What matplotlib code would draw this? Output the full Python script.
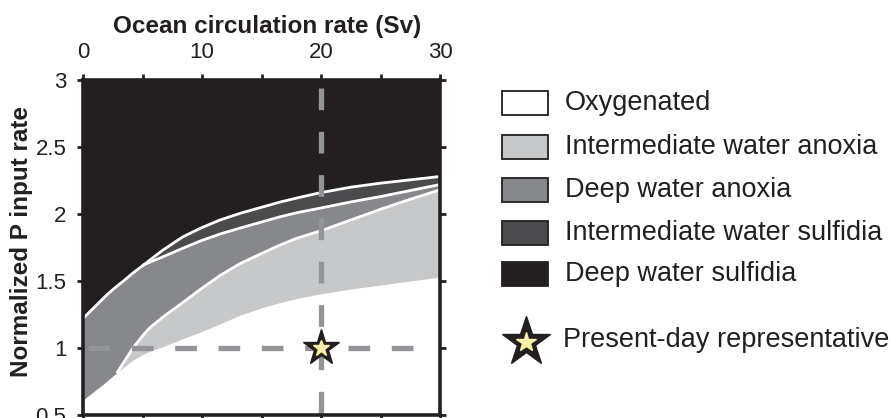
import matplotlib
matplotlib.use('Agg')
import matplotlib.pyplot as plt
from matplotlib.patches import Rectangle
import numpy as np

plt.rcParams['font.family'] = ['Liberation Sans', 'DejaVu Sans']
plt.rcParams['lines.scale_dashes'] = False

# circulation rate (Sv) where the regime boundaries were read
flow = [0, 1.7, 2.1, 2.9, 3.4, 4.2, 5.1, 5.6, 6.7, 8.4, 9.9, 11.5, 13.2, 15, 16.6,
        18, 20, 22.5, 25, 27.5, 30]
# upper edge of the stacked regimes (below deep water sulfidia)
sulfidia_top = [1.22, 1.37, 1.405, 1.465, 1.5, 1.56, 1.62, 1.655, 1.73, 1.83, 1.895,
                1.955, 2.005, 2.05, 2.09, 2.12, 2.16, 2.2, 2.23, 2.255, 2.28]
# lower edge of intermediate water sulfidia
int_sulfidia_bottom = [1.22, 1.37, 1.405, 1.465, 1.5, 1.56, 1.62, 1.64, 1.68, 1.745, 1.8,
                       1.85, 1.895, 1.94, 1.98, 2.01, 2.045, 2.09, 2.13, 2.175, 2.22]
# lower edge of deep water anoxia
deep_anoxia_bottom = [0.612, 0.73, 0.76, 0.82, 0.89, 1.0, 1.1, 1.15, 1.23, 1.34, 1.44,
                      1.54, 1.63, 1.705, 1.77, 1.82, 1.875, 1.955, 2.035, 2.11, 2.18]
# lower edge of intermediate water anoxia (top of oxygenated)
oxygenated_top = [0.612, 0.73, 0.76, 0.82, 0.855, 0.91, 0.955, 0.975, 1.01, 1.07, 1.12,
                  1.18, 1.245, 1.3, 1.34, 1.37, 1.405, 1.44, 1.47, 1.5, 1.53]

present_flow = 20
present_p = 1

x_ticks = [0, 10, 20, 30]
x_minor = [5, 15, 25]
y_ticks = [0.5, 1, 1.5, 2, 2.5, 3]
y_labels = ['0.5', '1', '1.5', '2', '2.5', '3']

legend_labels = ['Oxygenated', 'Intermediate water anoxia', 'Deep water anoxia',
                 'Intermediate water sulfidia', 'Deep water sulfidia']
legend_colors = ['#ffffff', '#c7c8ca', '#87888b', '#4b4b4d', '#231f20']

ink = '#231f20'
dash_grey = '#939497'
star_fill = '#f7f0a6'

W, H = 894, 418
fig = plt.figure(figsize=(W / 100, H / 100), dpi=100)
ax = fig.add_axes([83 / W, 1 - 415 / H, 357 / W, 335 / H])

flow = np.array(flow)
ax.set_facecolor('white')
ax.fill_between(flow, sulfidia_top, 3, color=legend_colors[4], lw=0)
ax.fill_between(flow, int_sulfidia_bottom, sulfidia_top, color=legend_colors[3], lw=0)
ax.fill_between(flow, deep_anoxia_bottom, int_sulfidia_bottom, color=legend_colors[2], lw=0)
ax.fill_between(flow, oxygenated_top, deep_anoxia_bottom, color=legend_colors[1], lw=0)

# white boundary lines
ax.plot(flow, sulfidia_top, color='white', lw=2, solid_joinstyle='round')
ax.plot(flow[6:], int_sulfidia_bottom[6:], color='white', lw=2, solid_joinstyle='round')
ax.plot(flow[3:], deep_anoxia_bottom[3:], color='white', lw=2, solid_joinstyle='round')

# present-day cross hair
ax.plot([0.4, 28], [present_p, present_p], color=dash_grey, lw=3.8,
        dashes=(15.6, 15.6), dash_capstyle='butt')
ax.plot([present_flow, present_flow], [2.94, 0.5], color=dash_grey, lw=3.8,
        dashes=(15.6, 15.6), dash_capstyle='butt')
ax.plot(present_flow, present_p, marker='*', ms=27, color=ink, zorder=5)
ax.plot(present_flow, present_p, marker='*', ms=12, color=star_fill, zorder=6)

ax.set_xlim(0, 30)
ax.set_ylim(0.5, 3)
ax.xaxis.tick_top()
ax.set_xticks(x_ticks)
ax.set_xticks(x_minor, minor=True)
ax.set_yticks(y_ticks)
ax.set_yticklabels(y_labels)
ax.tick_params(axis='x', which='both', top=True, bottom=True, labeltop=True,
               labelbottom=False, direction='out', length=4, width=2, color=ink,
               labelsize=16, pad=8, labelcolor=ink)
ax.tick_params(axis='y', left=True, right=True, labelleft=True, labelright=False,
               direction='out', length=4, width=2, color=ink, labelsize=16, pad=8,
               labelcolor=ink)
for s in ax.spines.values():
    s.set_linewidth(2.6)
    s.set_color(ink)

ax.xaxis.set_label_position('top')
ax.set_xlabel('Ocean circulation rate (Sv)', fontsize=17.5, fontweight='bold', color=ink)
ax.xaxis.set_label_coords(0.515, 1.14)
ax.set_ylabel('Normalized P input rate', fontsize=17.5, fontweight='bold', color=ink)
ax.yaxis.set_label_coords(-0.14, 0.518)

# legend drawn by hand on the right
def fx(px):
    return px / W

def fy(py):
    return 1 - py / H

row_y = [103, 147, 190, 233, 274]
for label, colour, py in zip(legend_labels, legend_colors, row_y):
    fig.patches.append(Rectangle((fx(502), fy(py + 12)), 46 / W, 24 / H,
                                 transform=fig.transFigure, facecolor=colour,
                                 edgecolor=ink, lw=1.3))
    fig.text(fx(565), fy(py), label, fontsize=19.5, va='center', ha='left', color=ink)

star_ax = fig.add_axes([0, 0, 1, 1], facecolor='none')
star_ax.set_axis_off()
star_ax.set_xlim(0, W)
star_ax.set_ylim(H, 0)
star_ax.plot(526, 342, marker='*', ms=37, color=ink)
star_ax.plot(526, 342, marker='*', ms=15, color=star_fill)
fig.text(fx(563), fy(340), 'Present-day representative', fontsize=19.5,
         va='center', ha='left', color=ink)

fig.savefig('out.png', dpi=100)
